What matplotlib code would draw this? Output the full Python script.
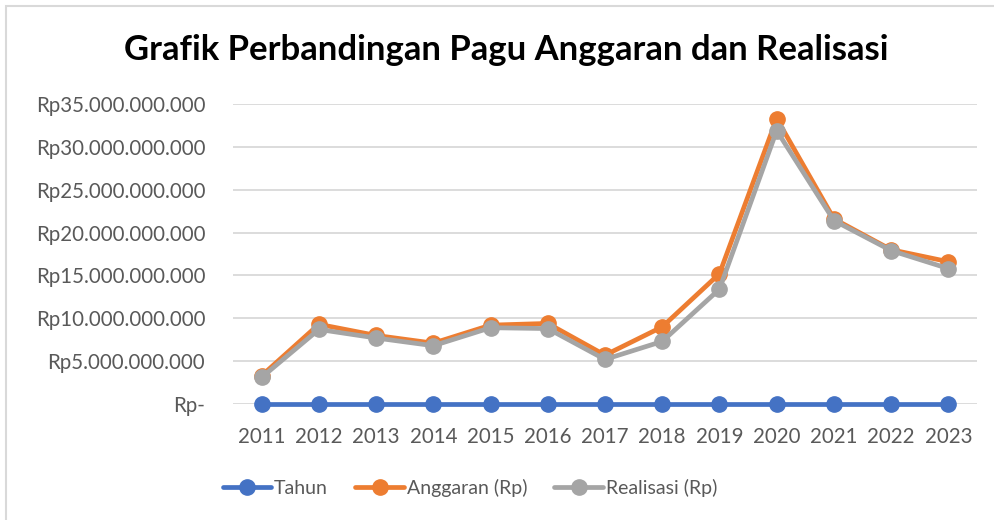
import numpy as np
import matplotlib.pyplot as plt
from matplotlib.ticker import FuncFormatter

# data (Rp)
tahun = [2011, 2012, 2013, 2014, 2015, 2016, 2017, 2018, 2019, 2020, 2021, 2022, 2023]
anggaran = [3.3e9, 9.3e9, 8.0e9, 7.1e9, 9.2e9, 9.4e9, 5.7e9, 9.0e9, 15.2e9, 33.3e9, 21.6e9, 18.0e9, 16.6e9]
realisasi = [3.1e9, 8.7e9, 7.7e9, 6.8e9, 8.9e9, 8.8e9, 5.2e9, 7.3e9, 13.4e9, 31.9e9, 21.4e9, 17.9e9, 15.8e9]

biru = '#4472C4'
oranye = '#ED7D31'
abu = '#A5A5A5'
teks = '#595959'

plt.rcParams['font.family'] = ['Lato', 'DejaVu Sans']

fig = plt.figure(figsize=(9.94, 5.2), dpi=100)
ax = fig.add_axes([233/994, 1-404/520, (977-233)/994, 300/520])

x = np.arange(len(tahun))
gaya = dict(lw=3.4, marker='o', ms=11, solid_capstyle='round', clip_on=False)
ax.plot(x, tahun, color=biru, label='Tahun', **gaya)
ax.plot(x, anggaran, color=oranye, label='Anggaran (Rp)', **gaya)
ax.plot(x, realisasi, color=abu, label='Realisasi (Rp)', **gaya)

def rupiah(v, pos):
    if v == 0:
        return 'Rp-'
    return 'Rp' + f'{int(v):,}'.replace(',', '.')

ax.set_ylim(0, 35e9)
ax.set_yticks(np.arange(0, 35e9 + 1, 5e9))
ax.yaxis.set_major_formatter(FuncFormatter(rupiah))
ax.set_xlim(-0.5, len(tahun) - 0.5)
ax.set_xticks(x)
ax.set_xticklabels([str(t) for t in tahun])

ax.grid(axis='y', color='#D9D9D9', lw=1.3)
ax.set_axisbelow(True)
for s in ax.spines.values():
    s.set_visible(False)
ax.tick_params(length=0, labelsize=14.8, labelcolor=teks)
ax.tick_params(axis='y', pad=20)
ax.tick_params(axis='x', pad=16.5)

fig.text(506/994, 1-50/520, 'Grafik Perbandingan Pagu Anggaran dan Realisasi',
         ha='center', va='center', fontsize=24.9, fontweight='bold', color='black')

fig.legend(loc='center', bbox_to_anchor=(470/994, 1-488/520), ncol=3, frameon=False,
           fontsize=14, labelcolor=teks, handlelength=2.5, handletextpad=0.15,
           columnspacing=1.4)

# bingkai grafik
fig.patches.append(plt.Rectangle((6/994, -0.01), 1, 1-6/520+0.01, transform=fig.transFigure,
                                 fill=False, ec='#D9D9D9', lw=1.5))

fig.savefig('out.png', dpi=100)
